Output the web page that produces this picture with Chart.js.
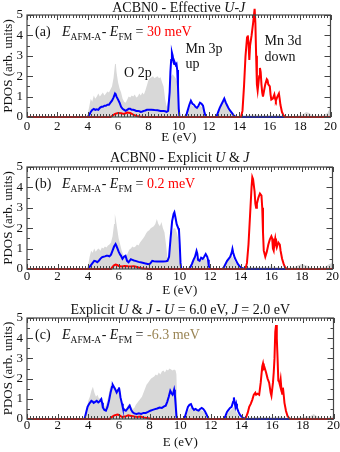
<!DOCTYPE html>
<html><head><meta charset="utf-8">
<script src="https://cdn.jsdelivr.net/npm/chart.js@4/dist/chart.umd.min.js"></script>
<style>
html,body{margin:0;padding:0;background:#fff;}
#wrap{position:relative;width:340px;height:452px;overflow:hidden;background:#fff;}
canvas{position:absolute;left:0;}
</style></head><body>
<div id="wrap">
<canvas id="ca" width="340" height="150" style="top:0px"></canvas>
<canvas id="cb" width="340" height="155" style="top:145px"></canvas>
<canvas id="cc" width="340" height="157" style="top:295px"></canvas>
</div>
<script>
// ---------- axis ticks ----------
const xTickValues = [0,2,4,6,8,10,12,14,16,18,20];
const yTickValues = [0,1,2,3,4,5];

// ---------- Panel (a): ACBN0 - Effective U-J ----------
const aGrayE = [0,3.9,4.0,4.1,4.2,4.3,4.4,4.5,4.6,4.7,4.8,4.9,5.0,5.1,5.2,5.3,5.4,5.5,5.6,5.7,5.8,5.85,5.9,6.0,6.1,6.2,6.3,6.4,6.5,6.6,6.7,6.8,6.9,7.0,7.1,7.2,7.3,7.4,7.5,7.6,7.7,7.8,7.9,8.0,8.1,8.2,8.3,8.4,8.5,8.6,8.7,8.8,8.9,9.0,9.1,9.2,9.3,9.4,9.5,9.6,9.7,9.8,9.9,10.0,10.1,10.5,10.6,10.8,11.0,11.2,11.4,11.6,11.8,12.4,12.6,12.8,13.0,13.2,13.4,13.6,13.8,14.0,14.5,15.0,15.5,16.0,16.5,17.0,17.5,18.0,18.2,18.4,18.6,18.8,19.0,19.5,19.8,20];
const aGrayV = [0,0,0.15,0.5,0.9,0.75,1.05,0.9,1.0,1.15,1.0,1.1,1.2,1.05,1.15,1.25,1.2,1.35,1.5,1.9,2.6,2.65,2.2,1.7,1.4,1.2,0.9,0.75,0.7,0.85,1.0,0.95,1.05,1.0,1.1,0.95,1.0,1.15,1.05,1.2,1.1,1.3,1.55,1.8,1.9,1.95,2.0,1.9,1.95,2.0,1.9,1.95,1.7,1.5,0.9,0.5,0.8,1.6,2.0,2.1,2.0,1.9,1.7,0.6,0.05,0.05,0.3,0.6,0.5,0.4,0.55,0.45,0.05,0.05,0.3,0.6,0.8,0.55,0.3,0.1,0.05,0.05,0.1,0.12,0.08,0.1,0.1,0.05,0.05,0.08,0.15,0.25,0.2,0.08,0.05,0.08,0.2,0.5];
const aBlueE = [0,4.0,4.1,4.2,4.3,4.4,4.5,4.6,4.7,4.8,4.9,5.0,5.1,5.2,5.3,5.4,5.5,5.6,5.7,5.8,5.85,5.9,6.0,6.1,6.2,6.3,6.4,6.5,6.6,6.7,6.8,6.9,7.0,7.1,7.2,7.3,7.4,7.5,7.6,7.7,7.8,7.9,8.0,8.2,8.4,8.6,8.8,9.0,9.1,9.2,9.3,9.4,9.45,9.5,9.55,9.6,9.65,9.7,9.75,9.8,9.85,9.9,9.95,10.0,10.05,10.4,10.5,10.6,10.7,10.8,10.9,11.0,11.1,11.2,11.3,11.4,11.5,11.6,11.7,11.8,12.4,12.5,12.6,12.7,12.8,12.9,13.0,13.1,13.2,13.3,13.4,13.5,13.6,13.7,13.8,20];
const aBlueV = [0,0,0.1,0.25,0.35,0.4,0.35,0.38,0.35,0.45,0.5,0.5,0.55,0.55,0.6,0.6,0.7,0.8,0.95,1.15,1.1,1.0,0.85,0.7,0.5,0.4,0.35,0.3,0.35,0.4,0.4,0.35,0.35,0.33,0.3,0.3,0.28,0.25,0.27,0.3,0.32,0.35,0.35,0.36,0.34,0.33,0.3,0.3,0.28,0.25,0.3,1.2,2.2,2.8,3.15,3.0,2.7,2.6,2.65,2.55,2.6,2.3,1.5,0.4,0,0,0.1,0.35,0.6,0.8,0.65,0.6,0.5,0.45,0.55,0.7,0.65,0.55,0.2,0,0,0.05,0.25,0.45,0.6,0.75,0.9,0.7,0.55,0.4,0.3,0.2,0.1,0.03,0,0];
const aRedE = [0,5.5,5.6,5.8,6.0,6.2,6.4,6.6,6.8,7.0,7.2,7.4,7.6,14.1,14.2,14.3,14.4,14.5,14.55,14.6,14.65,14.7,14.8,14.9,15.0,15.05,15.1,15.15,15.2,15.3,15.35,15.4,15.45,15.5,15.55,15.6,15.7,15.8,15.85,15.9,16.0,16.05,16.1,16.2,16.3,16.35,16.4,16.5,16.6,16.65,16.7,16.8,16.9,17.0,20];
const aRedV = [0,0,0.05,0.15,0.2,0.18,0.15,0.22,0.2,0.12,0.05,0.02,0,0,0.3,1.5,3.0,3.9,4.0,3.6,2.8,3.5,4.0,4.6,5.3,4.6,3.0,1.6,1.3,2.0,2.4,2.2,1.6,1.2,1.0,1.2,1.6,1.85,1.8,1.6,1.5,1.1,0.85,0.9,1.1,0.9,0.8,1.0,1.15,0.9,0.6,0.25,0.08,0,0];

// ---------- Panel (b): ACBN0 - Explicit U & J ----------
const bGrayE = [0,3.9,4.0,4.1,4.2,4.3,4.4,4.5,4.6,4.7,4.8,4.9,5.0,5.1,5.2,5.3,5.4,5.5,5.6,5.7,5.75,5.8,5.9,6.0,6.1,6.2,6.3,6.4,6.5,6.6,6.7,6.8,6.9,7.0,7.1,7.2,7.3,7.4,7.5,7.6,7.7,7.8,7.9,8.0,8.1,8.2,8.3,8.4,8.5,8.6,8.7,8.8,8.9,9.0,9.1,9.2,9.3,9.4,9.5,9.6,9.7,9.8,9.9,10.0,10.1,10.6,10.8,11.0,11.2,11.4,11.6,11.8,11.9,12.8,13.0,13.2,13.4,13.6,13.8,14.0,14.5,15.0,15.5,16.0,16.5,17.0,17.5,17.8,18.0,18.2,18.4,18.6,19.0,19.5,19.8,20];
const bGrayV = [0,0,0.2,0.6,0.9,0.8,1.0,0.85,0.95,1.0,0.9,1.05,1.0,1.1,1.05,1.15,1.2,1.3,1.6,2.2,2.7,2.5,2.0,1.5,1.2,0.9,0.7,0.55,0.6,0.8,0.95,1.0,1.1,1.05,1.1,1.2,1.15,1.3,1.4,1.5,1.6,1.75,1.85,1.9,2.0,2.05,2.1,2.2,2.45,2.2,2.1,2.3,2.0,1.8,1.2,0.5,0.6,1.2,1.8,2.0,2.0,1.8,1.5,0.7,0.05,0.05,0.4,0.6,0.5,0.45,0.55,0.4,0.05,0.05,0.35,0.55,0.65,0.4,0.15,0.05,0.1,0.1,0.1,0.12,0.08,0.05,0.1,0.2,0.25,0.2,0.15,0.05,0.05,0.1,0.25,0.3];
const bBlueE = [0,4.0,4.1,4.2,4.3,4.4,4.5,4.6,4.7,4.8,4.9,5.0,5.1,5.2,5.3,5.4,5.5,5.6,5.7,5.8,5.85,5.9,6.0,6.1,6.15,6.25,6.35,6.45,6.55,6.65,6.8,6.9,7.0,7.1,7.3,7.5,7.7,7.9,8.0,8.1,8.2,8.3,8.5,8.7,8.9,9.1,9.2,9.3,9.4,9.5,9.6,9.65,9.7,9.8,9.9,9.95,10.0,10.05,10.1,10.6,10.7,10.8,10.9,11.0,11.1,11.15,11.2,11.3,11.4,11.5,11.6,11.7,11.8,11.85,11.9,12.0,12.8,12.9,13.0,13.1,13.2,13.3,13.4,13.45,13.5,13.6,13.7,13.8,13.9,14.0,14.2,20];
const bBlueV = [0,0,0.1,0.2,0.3,0.4,0.38,0.33,0.4,0.5,0.57,0.6,0.62,0.65,0.65,0.62,0.7,0.9,1.1,1.22,1.15,1.05,0.85,0.7,0.65,0.5,0.6,0.65,0.4,0.33,0.48,0.45,0.42,0.4,0.35,0.32,0.28,0.25,0.23,0.3,0.4,0.38,0.37,0.37,0.37,0.38,0.4,0.6,1.5,2.35,2.7,2.78,2.6,2.2,2.0,1.9,1.2,0.3,0,0,0.1,0.25,0.45,0.6,0.88,0.75,0.45,0.4,0.55,0.5,0.6,0.73,0.6,0.45,0.15,0,0,0.1,0.25,0.4,0.5,0.6,0.8,0.98,0.8,0.55,0.4,0.25,0.15,0.08,0,0];
const bRedE = [0,5.5,5.6,5.7,5.8,5.9,6.0,6.2,6.4,6.6,6.8,7.0,7.2,7.4,7.6,8.0,14.3,14.4,14.5,14.6,14.7,14.75,14.8,14.9,14.95,15.0,15.05,15.15,15.25,15.35,15.4,15.45,15.5,15.6,15.7,15.8,15.9,16.0,16.05,16.1,16.15,16.2,16.25,16.3,16.35,16.45,16.55,16.6,16.7,16.8,16.9,17.0,20];
const bRedV = [0,0,0.1,0.18,0.22,0.2,0.15,0.12,0.15,0.13,0.12,0.14,0.1,0.05,0.02,0,0,0.3,1.2,2.6,4.0,4.5,4.4,3.8,3.2,3.0,3.2,3.5,3.7,3.6,3.0,1.8,0.9,0.6,0.85,1.2,1.45,1.6,1.5,1.0,0.9,1.3,1.5,1.2,1.05,1.3,1.2,0.9,0.5,0.25,0.08,0,0];

// ---------- Panel (c): Explicit U & J - U = 6.0 eV, J = 2.0 eV ----------
const cGrayE = [0,3.7,3.8,3.9,4.0,4.1,4.2,4.3,4.4,4.5,4.6,4.7,4.8,4.9,5.0,5.1,5.2,5.3,5.4,5.5,5.6,5.7,5.8,5.9,6.0,6.1,6.2,6.3,6.4,6.5,6.6,6.7,6.8,6.9,7.0,7.1,7.2,7.3,7.4,7.5,7.6,7.7,7.8,7.9,8.0,8.1,8.2,8.3,8.4,8.5,8.6,8.7,8.8,8.9,9.0,9.1,9.2,9.3,9.4,9.5,9.6,9.7,9.75,9.8,9.85,10.3,10.5,10.7,10.9,11.1,11.3,11.5,11.7,11.9,12.9,13.1,13.3,13.5,13.7,13.9,14.1,14.5,15.0,15.5,16.0,16.5,17.0,17.5,18.0,18.5,18.7,18.9,19.2,19.6,20];
const cGrayV = [0,0,0.2,0.5,0.9,1.1,1.4,1.6,1.3,1.1,1.2,1.0,1.05,0.9,0.7,0.6,0.8,1.1,1.5,1.8,1.7,1.6,1.55,1.4,1.6,1.2,0.8,0.6,0.5,0.55,0.7,0.75,0.6,0.5,0.55,0.7,0.8,0.9,1.0,1.1,1.3,1.5,1.7,1.8,1.9,2.0,2.05,2.1,2.2,2.15,2.3,2.2,2.35,2.4,2.3,2.45,2.4,2.5,2.45,2.4,2.45,2.4,2.2,0.5,0.05,0.05,0.4,0.6,0.45,0.4,0.45,0.4,0.2,0.05,0.05,0.3,0.45,0.6,0.3,0.1,0.05,0.08,0.1,0.1,0.1,0.12,0.05,0.05,0.1,0.15,0.25,0.15,0.05,0.05,0.15];
const cBlueE = [0,3.75,3.85,3.95,4.05,4.15,4.2,4.3,4.35,4.45,4.55,4.65,4.75,4.85,4.9,4.95,5.05,5.15,5.25,5.35,5.45,5.55,5.6,5.7,5.75,5.85,5.95,6.0,6.05,6.1,6.2,6.25,6.35,6.45,6.55,6.7,6.8,6.9,7.0,7.15,7.3,7.45,7.6,7.75,7.9,8.05,8.2,8.35,8.5,8.65,8.8,8.95,9.05,9.15,9.25,9.35,9.45,9.5,9.55,9.6,9.65,9.7,9.75,9.8,10.2,10.3,10.4,10.5,10.6,10.7,10.8,10.9,11.0,11.1,11.2,11.3,11.4,11.5,11.6,11.7,11.8,11.87,12.85,12.95,13.05,13.15,13.25,13.35,13.45,13.5,13.55,13.6,13.65,13.7,13.8,13.9,14.0,14.1,14.3,20];
const cBlueV = [0,0,0.3,0.6,0.74,0.85,0.9,0.85,0.8,0.85,0.9,0.82,0.88,0.98,0.8,0.57,0.45,0.41,0.6,0.9,1.3,1.6,1.69,1.55,1.48,1.31,1.45,1.56,1.35,1.07,0.75,0.57,0.45,0.41,0.5,0.66,0.45,0.33,0.28,0.25,0.28,0.25,0.3,0.3,0.35,0.41,0.45,0.49,0.52,0.57,0.55,0.62,0.66,0.85,1.1,1.4,1.25,1.2,1.3,1.45,1.2,0.7,0.15,0,0,0.1,0.35,0.6,0.7,0.74,0.55,0.45,0.5,0.44,0.42,0.5,0.55,0.5,0.4,0.25,0.08,0,0,0.15,0.35,0.45,0.55,0.6,0.85,1.07,0.8,0.6,0.75,0.55,0.35,0.2,0.12,0.05,0,0];
const cRedE = [0,5.4,5.5,5.7,5.9,6.0,6.2,6.4,6.6,6.8,7.0,7.2,7.4,7.6,7.8,8.0,8.2,14.2,14.3,14.4,14.5,14.6,14.7,14.8,14.9,14.95,15.05,15.15,15.25,15.35,15.4,15.45,15.5,15.6,15.7,15.8,15.9,15.95,16.05,16.1,16.15,16.2,16.25,16.3,16.35,16.4,16.45,16.5,16.55,16.6,16.65,16.7,16.75,16.8,16.9,17.0,17.1,17.2,20];
const cRedV = [0,0,0.08,0.18,0.22,0.2,0.1,0.12,0.18,0.15,0.12,0.1,0.12,0.08,0.05,0.02,0,0,0.1,0.3,0.6,0.75,0.95,1.2,1.3,1.2,1.25,1.2,1.8,2.6,2.75,2.5,2.55,2.3,2.0,1.8,1.3,1.15,1.8,2.3,3.0,4.3,4.65,4.0,3.0,1.9,1.85,1.7,1.95,1.5,1.25,1.55,1.2,0.8,0.4,0.15,0.05,0,0];

// ---------- texts ----------
const titleA = [['ACBN0 - Effective ',0],['U',1],['-',0],['J',1]];
const titleB = [['ACBN0 - Explicit ',0],['U',1],[' & ',0],['J',1]];
const titleC = [['Explicit ',0],['U',1],[' & ',0],['J',1],[' - ',0],['U',1],[' = 6.0 eV, ',0],['J',1],[' = 2.0 eV',0]];
const energyA = '30 meV', energyB = '0.2 meV', energyC = '-6.3 meV';

const SERIF = '"Liberation Serif", "Times New Roman", serif';
const pts = (E, V) => E.map((e, i) => ({x: e, y: V[i]}));

function drawPieces(ctx, pieces, cx, y, size) {
  let total = 0;
  pieces.forEach(p => { ctx.font = (p[1] ? 'italic ' : '') + size + 'px ' + SERIF; total += ctx.measureText(p[0]).width; });
  let x = cx - total / 2;
  ctx.textAlign = 'left'; ctx.textBaseline = 'alphabetic'; ctx.fillStyle = '#111';
  pieces.forEach(p => { ctx.font = (p[1] ? 'italic ' : '') + size + 'px ' + SERIF; ctx.fillText(p[0], x, y); x += ctx.measureText(p[0]).width; });
}

function drawEnergyLabel(ctx, area, tag, value, color, baseY) {
  ctx.textAlign = 'left'; ctx.textBaseline = 'alphabetic';
  ctx.fillStyle = '#111';
  const big = '14px ' + SERIF, bigI = 'italic 14px ' + SERIF, sub = '9.5px ' + SERIF;
  let x = area.left + 8;
  ctx.font = big; ctx.fillText(tag, x, baseY);
  x = area.left + 35;
  ctx.font = bigI; ctx.fillText('E', x, baseY); x += ctx.measureText('E').width;
  ctx.font = sub; ctx.fillText('AFM-A', x, baseY + 3.5); x += ctx.measureText('AFM-A').width + 0.5;
  ctx.font = big; ctx.fillText('- ', x, baseY); x += ctx.measureText('- ').width;
  ctx.font = bigI; ctx.fillText('E', x, baseY); x += ctx.measureText('E').width;
  ctx.font = sub; ctx.fillText('FM', x, baseY + 3.5); x += ctx.measureText('FM').width;
  ctx.font = big; ctx.fillText(' = ', x, baseY); x += ctx.measureText(' = ').width;
  ctx.fillStyle = color; ctx.fillText(value, x, baseY);
}

const framePlugin = {
  id: 'frame',
  afterDatasetsDraw(chart, args, opts) {
    const {ctx, chartArea: a, scales: {x, y}} = chart;
    ctx.save();
    ctx.strokeStyle = '#444'; ctx.lineWidth = 1.2;
    ctx.strokeRect(a.left, a.top, a.right - a.left, a.bottom - a.top);
    ctx.lineWidth = 1;
    ctx.beginPath();
    for (let k = 0; k <= 100; k++) {
      const e = k * 0.2; const px = Math.round(x.getPixelForValue(e)) + 0.5;
      const len = (k % 10 === 0) ? 5 : 3;
      ctx.moveTo(px, a.bottom); ctx.lineTo(px, a.bottom - len);
      ctx.moveTo(px, a.top); ctx.lineTo(px, a.top + len);
    }
    for (let k = 0; k <= 10; k++) {
      const v = k * 0.5; const py = Math.round(y.getPixelForValue(v)) + 0.5;
      const len = (k % 2 === 0) ? 6 : 3;
      ctx.moveTo(a.left, py); ctx.lineTo(a.left + len, py);
      ctx.moveTo(a.right, py); ctx.lineTo(a.right - len, py);
    }
    ctx.stroke();
    drawPieces(ctx, opts.title, (a.left + a.right) / 2, opts.titleY, 14);
    drawEnergyLabel(ctx, a, opts.tag, opts.energy, opts.energyColor, a.top + 21);
    ctx.font = '14px ' + SERIF; ctx.fillStyle = '#111'; ctx.textAlign = 'left'; ctx.textBaseline = 'alphabetic';
    (opts.notes || []).forEach(n => ctx.fillText(n[0], x.getPixelForValue(n[1]), y.getPixelForValue(n[2])));
    ctx.restore();
  }
};

function makePanel(id, gray, blue, red, P) {
  const cv = document.getElementById(id);
  const H = cv.height;
  return new Chart(cv, {
    type: 'line',
    data: {
      datasets: [
        {data: pts(gray[0], gray[1]), fill: 'origin', backgroundColor: '#d8d8d8', borderWidth: 0, pointRadius: 0, order: 3},
        {data: pts(blue[0], blue[1]), fill: false, borderColor: '#0000ff', borderWidth: 2, pointRadius: 0, order: 2},
        {data: pts(red[0], red[1]), fill: false, borderColor: '#ff0000', borderWidth: 2, pointRadius: 0, order: 1}
      ]
    },
    options: {
      responsive: false, animation: false, devicePixelRatio: 1,
      clip: false,
      layout: {padding: {top: P.plotTop, right: 5, left: 0, bottom: 0}},
      plugins: {
        legend: {display: false}, tooltip: {enabled: false}, title: {display: false},
        frame: {title: P.title, titleY: P.titleY, tag: P.tag, energy: P.energy, energyColor: P.energyColor, notes: P.notes}
      },
      elements: {line: {tension: 0}},
      scales: {
        x: {
          type: 'linear', min: 0, max: 20,
          afterBuildTicks: s => { s.ticks = xTickValues.map(v => ({value: v})); },
          ticks: {font: {family: SERIF, size: 13, lineHeight: 1}, color: '#111', padding: P.tickPad, maxRotation: 0, autoSkip: false},
          grid: {display: false, drawTicks: false}, border: {display: false},
          title: {display: true, text: 'E (eV)', color: '#111', font: {family: SERIF, size: 13, lineHeight: 1.2}, padding: {top: 0, bottom: P.xTitlePad}},
          afterFit: s => { s.height = H - P.plotBottom; }
        },
        y: {
          min: 0, max: 5,
          afterBuildTicks: s => { s.ticks = yTickValues.map(v => ({value: v})); },
          ticks: {font: {family: SERIF, size: 13, lineHeight: 1}, color: '#111', padding: 4},
          grid: {display: false, drawTicks: false}, border: {display: false},
          title: {display: true, text: 'PDOS (arb. units)', color: '#111', font: {family: SERIF, size: 13, lineHeight: 1.2}, padding: {top: 1, bottom: 0}},
          afterFit: s => { s.width = 27; }
        }
      }
    },
    plugins: [framePlugin]
  });
}

makePanel('ca', [aGrayE, aGrayV], [aBlueE, aBlueV], [aRedE, aRedV], {
  plotTop: 15, plotBottom: 117, tickPad: 3, xTitlePad: 5,
  title: titleA, titleY: 12, tag: '(a)', energy: energyA, energyColor: '#ff0000',
  notes: [['O 2p', 6.4, 1.96], ['Mn 3p', 10.45, 3.14], ['up', 10.45, 2.38], ['Mn 3d', 15.65, 3.53], ['down', 15.65, 2.75]]
});
makePanel('cb', [bGrayE, bGrayV], [bBlueE, bBlueV], [bRedE, bRedV], {
  plotTop: 22, plotBottom: 124, tickPad: 1, xTitlePad: 2,
  title: titleB, titleY: 17, tag: '(b)', energy: energyB, energyColor: '#ff0000', notes: []
});
makePanel('cc', [cGrayE, cGrayV], [cBlueE, cBlueV], [cRedE, cRedV], {
  plotTop: 23, plotBottom: 124, tickPad: 0, xTitlePad: 2,
  title: titleC, titleY: 19, tag: '(c)', energy: energyC, energyColor: '#9a8555', notes: []
});
</script>
</body></html>
